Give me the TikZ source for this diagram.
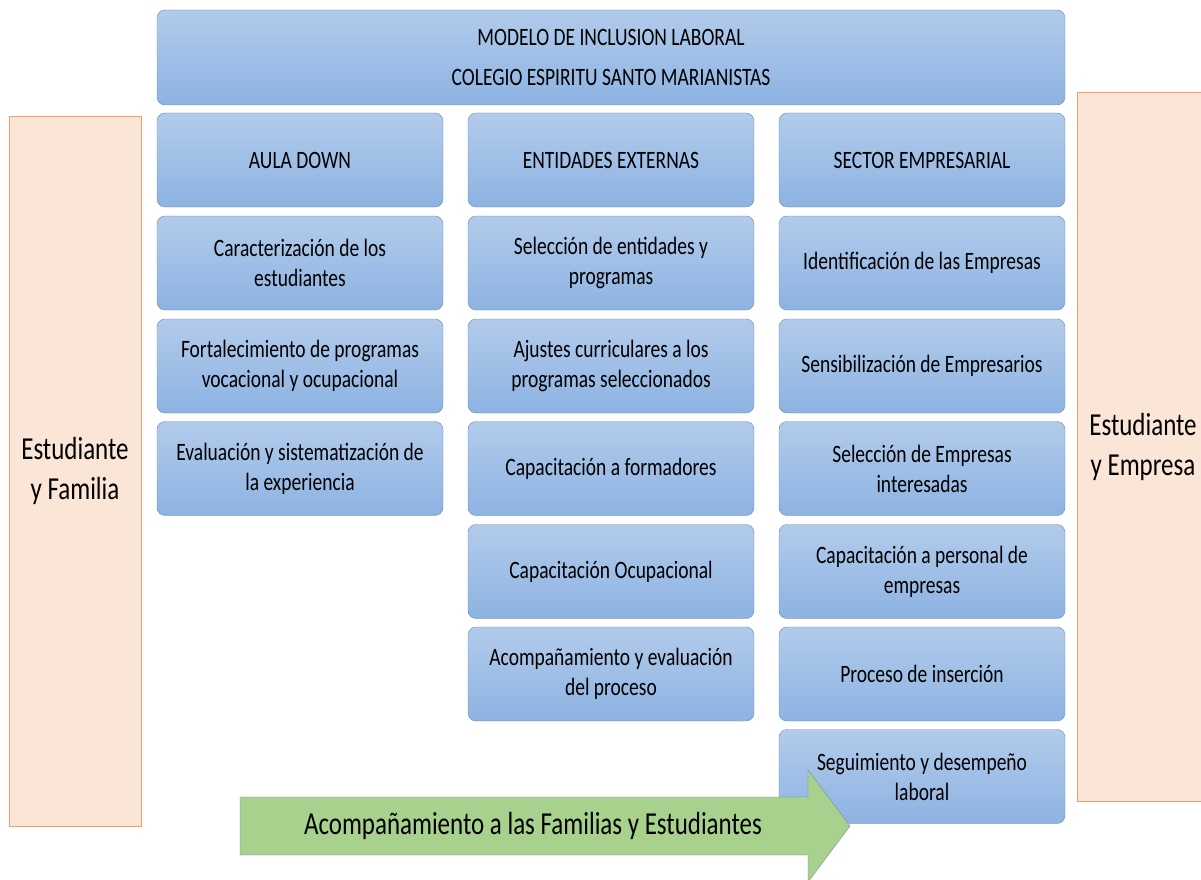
\documentclass[tikz,border=0pt]{standalone}
\usepackage{fontspec}
\setmainfont[FakeStretch=0.78]{Carlito}
\definecolor{boxtop}{HTML}{B2CBEB}
\definecolor{boxbot}{HTML}{8DB3E2}
\definecolor{boxline}{HTML}{7189A6}
\definecolor{sidefill}{HTML}{FBE5D6}
\definecolor{sideline}{HTML}{F2A06A}
\definecolor{arrowfill}{HTML}{A9D18E}
\begin{document}
\begin{tikzpicture}[x=1pt,y=-1pt,
  blk/.style={draw=boxline,top color=boxtop,bottom color=boxbot,rounded corners=8pt,
    minimum width=286pt,minimum height=94pt,align=center,inner sep=2pt,
    font=\fontsize{25}{30}\selectfont},
  side/.style={draw=sideline,fill=sidefill,align=center,inner sep=0pt,
    font=\fontsize{32}{40}\selectfont}]
\useasboundingbox (0,0) rectangle (1201,880);

\node[side,minimum width=132pt,minimum height=710pt] (fam) at (75,471) {Estudiante\\y Familia};
\node[side,minimum width=132pt,minimum height=709pt] (emp) at (1143,446.5) {Estudiante\\y Empresa};

\node[blk,minimum width=908pt,minimum height=95pt] (modelo) at (611,57.5) {MODELO DE INCLUSION LABORAL\\[10pt]COLEGIO ESPIRITU SANTO MARIANISTAS};

\node[blk] (aula) at (300,160) {AULA DOWN};
\node[blk] (carac) at (300,263) {Caracterización de los\\estudiantes};
\node[blk] (fort) at (300,366) {Fortalecimiento de programas\\vocacional y ocupacional};
\node[blk] (evsis) at (300,468.5) {Evaluación y sistematización de\\la experiencia};

\node[blk] (ent) at (611,160) {ENTIDADES EXTERNAS};
\node[blk] (selent) at (611,263) {Selección de entidades y\\programas};
\node[blk] (ajust) at (611,366) {Ajustes curriculares a los\\programas seleccionados};
\node[blk] (capform) at (611,468.5) {Capacitación a formadores};
\node[blk] (capocu) at (611,571.5) {Capacitación Ocupacional};
\node[blk] (acomp) at (611,674) {Acompañamiento y evaluación\\del proceso};

\node[blk] (sector) at (922,160) {SECTOR EMPRESARIAL};
\node[blk] (ident) at (922,263) {Identificación de las Empresas};
\node[blk] (sensi) at (922,366) {Sensibilización de Empresarios};
\node[blk] (selemp) at (922,468.5) {Selección de Empresas\\interesadas};
\node[blk] (capper) at (922,571.5) {Capacitación a personal de\\empresas};
\node[blk] (inser) at (922,674) {Proceso de inserción};
\node[blk] (segui) at (922,776.5) {Seguimiento y desempeño\\laboral};

\draw[boxline,fill=arrowfill] (240,797) -- (808,797) -- (808,770) -- (850,826) -- (808,882) -- (808,855) -- (240,855) -- cycle;
\node[font=\fontsize{32}{40}\selectfont] (acfam) at (533,826) {Acompañamiento a las Familias y Estudiantes};
\end{tikzpicture}
\end{document}
